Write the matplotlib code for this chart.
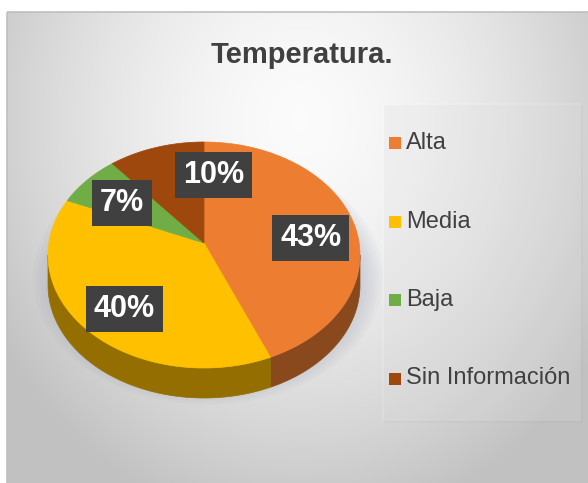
import numpy as np
import matplotlib.pyplot as plt
from matplotlib.patches import Polygon, Rectangle, Ellipse

# data
categories = ['Alta', 'Media', 'Baja', 'Sin Información']
values = [43, 40, 7, 10]
colors = ['#ED7D31', '#FFC000', '#70AD47', '#9E480E']
title = 'Temperatura.'

W, H = 588, 483
fig = plt.figure(figsize=(W / 100, H / 100), dpi=100)
ax = fig.add_axes([0, 0, 1, 1])
ax.set_xlim(0, W)
ax.set_ylim(H, 0)
ax.axis('off')
plt.rcParams['font.family'] = ['Liberation Sans', 'DejaVu Sans']

# background: soft radial gradient inside a thin border
x0, y0 = 7, 12
xx, yy = np.meshgrid(np.arange(x0, W), np.arange(y0, H))
r = np.sqrt(((xx - 300) / 330.0) ** 2 + ((yy - 120) / 380.0) ** 2)
v = np.clip(0.985 - 0.2 * r ** 1.6, 0.76, 1)
ax.imshow(np.dstack([v, v, v]), extent=(x0, W, H, y0), zorder=0)
ax.add_patch(Rectangle((x0, y0), W - x0 + 5, H - y0 + 5, fill=False,
                       edgecolor='#bfbfbf', lw=1.2, zorder=1))

ax.text(302, 55, title, ha='center', va='center', fontsize=21,
        fontweight='bold', color='#404040', zorder=5)

# pie geometry (pixel space)
cx, cy = 204, 255
a, b = 156, 113
apex = (204, 243)
depth = 30


def edge(t1, t2, n=80, dy=0):
    t = np.linspace(t1, t2, n)
    return np.column_stack([cx + a * np.cos(t), cy + dy - b * np.sin(t)])


def darker(c, f=0.6):
    c = np.array(plt.matplotlib.colors.to_rgb(c))
    return tuple(c * f)


# soft shadow under the pie
for s in np.linspace(1.12, 1.0, 6):
    ax.add_patch(Ellipse((cx + 4, cy + depth / 2 + 8), 2 * a * s, 2 * b * s,
                         facecolor='#8890a8', alpha=0.05, lw=0, zorder=2))

fr = np.array(values) / sum(values)
starts = np.pi / 2 - 2 * np.pi * np.concatenate([[0], np.cumsum(fr)[:-1]])
ends = starts - 2 * np.pi * fr

# side walls (front half only)
for s, e, c in zip(starts, ends, colors):
    lo, hi = max(e, -np.pi), min(s, 0)
    if lo >= hi:
        continue
    top = edge(hi, lo)
    bot = edge(lo, hi, dy=depth)
    ax.add_patch(Polygon(np.vstack([top, bot]), closed=True,
                         facecolor=darker(c, 0.58), edgecolor=darker(c, 0.58),
                         lw=0.5, zorder=3))

# top faces
for s, e, c in zip(starts, ends, colors):
    pts = np.vstack([[apex], edge(s, e)])
    ax.add_patch(Polygon(pts, closed=True, facecolor=c, edgecolor=c,
                         lw=0.5, zorder=4))

# data labels
nudge = [(0, 0), (0, 0), (0, 0), (43, -5)]
for s, e, val, (nx, ny) in zip(starts, ends, values, nudge):
    m = (s + e) / 2
    lx = cx + 0.7 * a * np.cos(m) + nx
    ly = cy - 0.7 * b * np.sin(m) + ny
    ax.text(lx, ly, f'{val}%', ha='center', va='center', fontsize=22,
            fontweight='bold', color='white', zorder=7,
            bbox=dict(boxstyle='square,pad=0.26', facecolor='#404040',
                      edgecolor='none'))

# legend
ax.add_patch(Rectangle((384, 105), 199, 318, facecolor='#9a9a9a',
                       alpha=0.08, lw=0, zorder=2))
ax.add_patch(Rectangle((382, 103), 199, 318, facecolor='white',
                       alpha=0.15, lw=0, zorder=2))
for i, (cat, c) in enumerate(zip(categories, colors)):
    yl = 143 + i * 78.5
    ax.add_patch(Rectangle((389, yl - 6), 12, 12, facecolor=c, lw=0, zorder=5))
    ax.text(406, yl, cat, ha='left', va='center', fontsize=17,
            color='#404040', zorder=5)

fig.savefig('out.png', dpi=100)
